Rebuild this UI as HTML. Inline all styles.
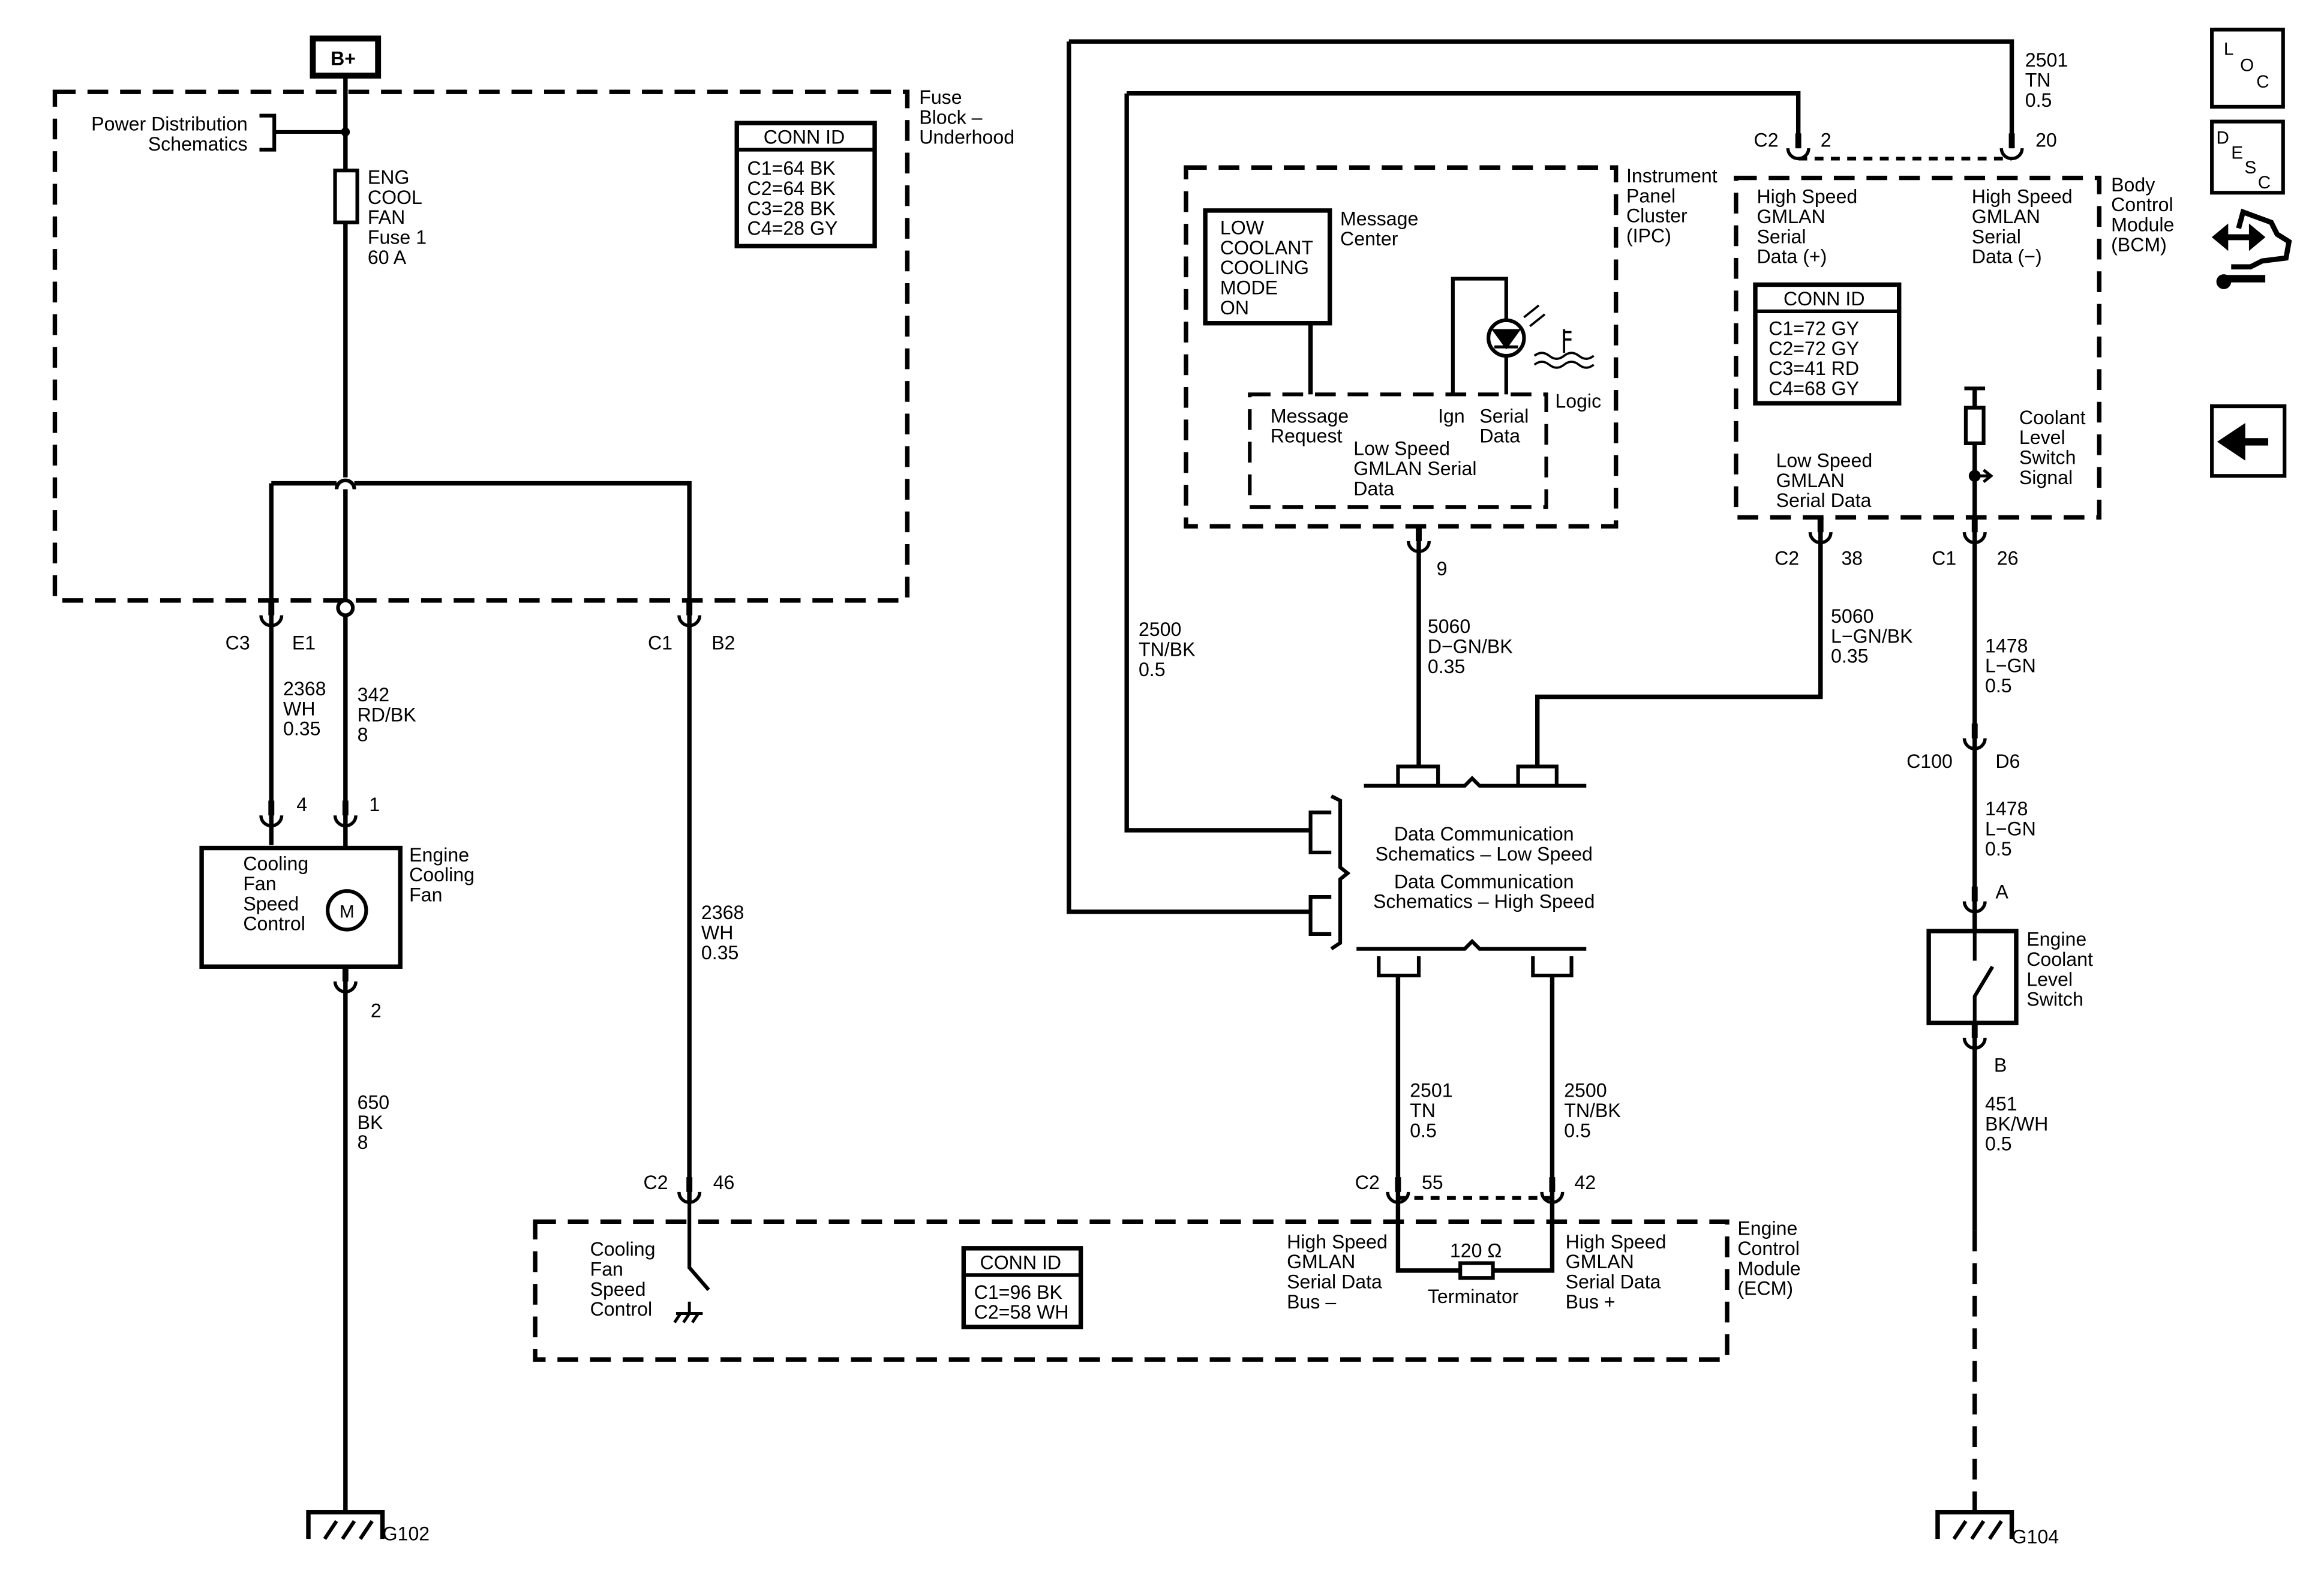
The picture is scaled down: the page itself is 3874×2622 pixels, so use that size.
<!DOCTYPE html>
<html><head><meta charset="utf-8"><style>
html,body{margin:0;padding:0;background:#fff;}
svg{display:block;}
text{font-family:"Liberation Sans",sans-serif;font-size:13px;fill:#000;}
</style></head><body>
<svg width="3874" height="2622" viewBox="0 0 1567.6 1061" xmlns="http://www.w3.org/2000/svg">
<defs>
<g id="cn"><rect x="-2" y="0" width="4" height="10" fill="#000"/><path d="M-7,10 A7,7 0 0 0 7,10" fill="none" stroke="#000" stroke-width="2.2"/></g>
<g id="gnd"><path d="M-25,18 V0 H25 V18" fill="none" stroke="#000" stroke-width="3"/><path d="M-14,18 L-6,6 M-2,18 L6,6 M10,18 L18,6" stroke="#000" stroke-width="2.5"/></g>
</defs>
<g fill="none" stroke="#000" stroke-width="3">
<g stroke-dasharray="14,8">
<rect x="37" y="62" width="575" height="343"/>
<rect x="361" y="824" width="804" height="93"/>
<rect x="800" y="113" width="290" height="242"/>
<rect x="843" y="266" width="200" height="76" stroke-width="2.5"/>
<rect x="1171" y="120" width="245" height="229"/>
<path d="M1213,107 H1357 M943,808 H1047" stroke-width="2.5" stroke-dasharray="6,5"/>
<path d="M1332,830 V1020"/>
</g>
<rect x="211" y="26" width="44" height="25" stroke-width="4"/>
<path d="M233,51 V322 M233,330 V1020"/>
<path d="M227,330 A6,6 0 0 1 239,330" stroke-width="2.5"/>
<path d="M183,326 H227 M239,326 H465 V810 M183,326 V570"/>
<rect x="226" y="115" width="15" height="35" fill="#fff" stroke-width="2.5"/>
<path d="M175,78 H185 V101 H175 M185,89 H233" stroke-width="2.5"/>
<rect x="497" y="83" width="93" height="83" stroke-width="3"/>
<path d="M497,101 H590" stroke-width="2.5"/>
<rect x="136" y="572" width="134" height="80" fill="#fff"/>
<circle cx="234" cy="614" r="13" fill="#fff" stroke-width="2.5"/>
<path d="M465,810 V855 L478,870" stroke-width="2.5"/>
<path d="M456,886 H474 M459,886 L455,892 M465,886 L461,892 M471,886 L467,892 M465,878 V886" stroke-width="2"/>
<rect x="650" y="842" width="79" height="53"/>
<path d="M650,860 H729" stroke-width="2.5"/>
<path d="M943,658 V857 H985 M1007,857 H1047 V658"/>
<rect x="985" y="852" width="22" height="10" stroke-width="2.5"/>
<path d="M721,28 H1357 V100 M760,63 H1213 V100"/>
<path d="M760,63 V560 H884 M721,28 V615 H884"/>
<path d="M957,355 V517 M1037,517 V470 H1228 V355"/>
<path d="M943,530 V517 H970 V530 M1024,530 V517 H1050 V530" stroke-width="2.5"/>
<path d="M920,530 H988 L993,525 L998,530 H1070" stroke-width="2.5"/>
<path d="M898,537 L904,540 V585 L909,589 L904,593 V636 L898,640" stroke-width="2.5"/>
<path d="M898,548 H884 V575 H898 M898,605 H884 V630 H898" stroke-width="2.5"/>
<path d="M915,640 H988 L993,635 L998,640 H1070" stroke-width="2.5"/>
<path d="M930,645 V658 H957 V645 M1034,645 V658 H1060 V645" stroke-width="2.5"/>
<rect x="813" y="142" width="84" height="76"/>
<path d="M884,218 V266"/>
<path d="M980,266 V188 H1016 V266" stroke-width="2.5"/>
<circle cx="1016" cy="228" r="12" fill="#fff" stroke-width="2.5"/>
<path d="M1008,223 H1024 L1016,234 Z M1008,234 H1024" fill="#000" stroke-width="2"/>
<path d="M1028,214 L1038,206 M1032,220 L1042,212" stroke-width="1.5"/>
<path d="M1055,222 V238 M1055,224 H1060 M1055,229 H1060 M1035,240 q5,-4 10,0 t10,0 t10,0 t10,0 M1035,246 q5,-4 10,0 t10,0 t10,0 t10,0" stroke-width="1.5"/>
<rect x="1184" y="192" width="97" height="80"/>
<path d="M1184,210 H1281" stroke-width="2.5"/>
<path d="M1228,349 V470 M1332,262 V830" />
<path d="M1325,262 H1339" stroke-width="2.5"/>
<rect x="1326" y="275" width="12" height="24" fill="#fff" stroke-width="2.5"/>
<path d="M1332,321 H1342 M1338,317 L1343,321 L1338,325" stroke-width="2"/>
<circle cx="1332" cy="321" r="2.5" fill="#000"/>
<rect x="1301" y="628" width="59" height="62" fill="#fff"/>
<path d="M1332,628 V648 M1332,690 V672 L1344,652" stroke-width="2.5"/>
<rect x="1492" y="20" width="48" height="52" stroke-width="2.5"/>
<rect x="1492" y="82" width="48" height="48" stroke-width="2.5"/>
<rect x="1492" y="274" width="49" height="47" stroke-width="2.5"/>
</g>
<circle cx="233" cy="89" r="3" fill="#000"/>
<circle cx="233" cy="410" r="5" fill="#fff" stroke="#000" stroke-width="2.5"/>
<path d="M1495,160 H1525 M1495,160 l6,-5 v10 z M1525,160 l-6,-5 v10 z" stroke="#000" stroke-width="4" fill="#000"/>
<path d="M1510,154 L1513,143 L1532,150 L1536,158 L1544,163 L1542,174 L1526,176 L1518,180 L1505,180" stroke="#000" stroke-width="3.5" fill="none"/>
<path d="M1500,188 H1528" stroke="#000" stroke-width="5"/>
<circle cx="1500" cy="190" r="5" fill="#000"/>
<path d="M1530,298 H1512 M1512,290 L1500,298 L1512,306 Z" stroke="#000" stroke-width="5" fill="#000"/>
<use href="#cn" x="183" y="405"/>
<use href="#cn" x="465" y="405"/>
<use href="#cn" x="183" y="540"/>
<use href="#cn" x="233" y="540"/>
<use href="#cn" x="233" y="652"/>
<use href="#cn" x="465" y="794"/>
<use href="#cn" x="943" y="794"/>
<use href="#cn" x="1047" y="794"/>
<use href="#cn" x="1213" y="90"/>
<use href="#cn" x="1357" y="90"/>
<use href="#cn" x="957" y="355"/>
<use href="#cn" x="1228" y="349"/>
<use href="#cn" x="1332" y="349"/>
<use href="#cn" x="1332" y="488"/>
<use href="#cn" x="1332" y="598"/>
<use href="#cn" x="1332" y="690"/>
<use href="#gnd" x="233" y="1020"/>
<use href="#gnd" x="1332" y="1020"/>
<text x="223" y="44" style="font-weight:bold">B+</text>
<text x="620" y="70"><tspan x="620">Fuse</tspan><tspan x="620" dy="13.5">Block –</tspan><tspan x="620" dy="13.5">Underhood</tspan></text>
<text x="167" y="88" text-anchor="end"><tspan x="167">Power Distribution</tspan><tspan x="167" dy="13.5">Schematics</tspan></text>
<text x="248" y="124"><tspan x="248">ENG</tspan><tspan x="248" dy="13.5">COOL</tspan><tspan x="248" dy="13.5">FAN</tspan><tspan x="248" dy="13.5">Fuse 1</tspan><tspan x="248" dy="13.5">60 A</tspan></text>
<text x="515" y="97">CONN ID</text>
<text x="504" y="118"><tspan x="504">C1=64 BK</tspan><tspan x="504" dy="13.5">C2=64 BK</tspan><tspan x="504" dy="13.5">C3=28 BK</tspan><tspan x="504" dy="13.5">C4=28 GY</tspan></text>
<text x="152" y="438">C3</text><text x="197" y="438">E1</text>
<text x="437" y="438">C1</text><text x="480" y="438">B2</text>
<text x="191" y="469"><tspan x="191">2368</tspan><tspan x="191" dy="13.5">WH</tspan><tspan x="191" dy="13.5">0.35</tspan></text>
<text x="241" y="473"><tspan x="241">342</tspan><tspan x="241" dy="13.5">RD/BK</tspan><tspan x="241" dy="13.5">8</tspan></text>
<text x="200" y="547">4</text><text x="249" y="547">1</text>
<text x="164" y="587"><tspan x="164">Cooling</tspan><tspan x="164" dy="13.5">Fan</tspan><tspan x="164" dy="13.5">Speed</tspan><tspan x="164" dy="13.5">Control</tspan></text>
<text x="229" y="619" style="font-size:12px">M</text>
<text x="276" y="581"><tspan x="276">Engine</tspan><tspan x="276" dy="13.5">Cooling</tspan><tspan x="276" dy="13.5">Fan</tspan></text>
<text x="250" y="686">2</text>
<text x="241" y="748"><tspan x="241">650</tspan><tspan x="241" dy="13.5">BK</tspan><tspan x="241" dy="13.5">8</tspan></text>
<text x="258" y="1039">G102</text>
<text x="473" y="620"><tspan x="473">2368</tspan><tspan x="473" dy="13.5">WH</tspan><tspan x="473" dy="13.5">0.35</tspan></text>
<text x="434" y="802">C2</text><text x="481" y="802">46</text>
<text x="398" y="847"><tspan x="398">Cooling</tspan><tspan x="398" dy="13.5">Fan</tspan><tspan x="398" dy="13.5">Speed</tspan><tspan x="398" dy="13.5">Control</tspan></text>
<text x="661" y="856">CONN ID</text>
<text x="657" y="876"><tspan x="657">C1=96 BK</tspan><tspan x="657" dy="13.5">C2=58 WH</tspan></text>
<text x="868" y="842"><tspan x="868">High Speed</tspan><tspan x="868" dy="13.5">GMLAN</tspan><tspan x="868" dy="13.5">Serial Data</tspan><tspan x="868" dy="13.5">Bus –</tspan></text>
<text x="978" y="848">120 Ω</text>
<text x="963" y="879">Terminator</text>
<text x="1056" y="842"><tspan x="1056">High Speed</tspan><tspan x="1056" dy="13.5">GMLAN</tspan><tspan x="1056" dy="13.5">Serial Data</tspan><tspan x="1056" dy="13.5">Bus +</tspan></text>
<text x="1172" y="833"><tspan x="1172">Engine</tspan><tspan x="1172" dy="13.5">Control</tspan><tspan x="1172" dy="13.5">Module</tspan><tspan x="1172" dy="13.5">(ECM)</tspan></text>
<text x="914" y="802">C2</text><text x="959" y="802">55</text><text x="1062" y="802">42</text>
<text x="951" y="740"><tspan x="951">2501</tspan><tspan x="951" dy="13.5">TN</tspan><tspan x="951" dy="13.5">0.5</tspan></text>
<text x="1055" y="740"><tspan x="1055">2500</tspan><tspan x="1055" dy="13.5">TN/BK</tspan><tspan x="1055" dy="13.5">0.5</tspan></text>
<text x="1001" y="567" text-anchor="middle"><tspan x="1001">Data Communication</tspan><tspan x="1001" dy="13.5">Schematics – Low Speed</tspan></text>
<text x="1001" y="599" text-anchor="middle"><tspan x="1001">Data Communication</tspan><tspan x="1001" dy="13.5">Schematics – High Speed</tspan></text>
<text x="768" y="429"><tspan x="768">2500</tspan><tspan x="768" dy="13.5">TN/BK</tspan><tspan x="768" dy="13.5">0.5</tspan></text>
<text x="963" y="427"><tspan x="963">5060</tspan><tspan x="963" dy="13.5">D−GN/BK</tspan><tspan x="963" dy="13.5">0.35</tspan></text>
<text x="1235" y="420"><tspan x="1235">5060</tspan><tspan x="1235" dy="13.5">L−GN/BK</tspan><tspan x="1235" dy="13.5">0.35</tspan></text>
<text x="969" y="388">9</text>
<text x="1097" y="123"><tspan x="1097">Instrument</tspan><tspan x="1097" dy="13.5">Panel</tspan><tspan x="1097" dy="13.5">Cluster</tspan><tspan x="1097" dy="13.5">(IPC)</tspan></text>
<text x="823" y="158"><tspan x="823">LOW</tspan><tspan x="823" dy="13.5">COOLANT</tspan><tspan x="823" dy="13.5">COOLING</tspan><tspan x="823" dy="13.5">MODE</tspan><tspan x="823" dy="13.5">ON</tspan></text>
<text x="904" y="152"><tspan x="904">Message</tspan><tspan x="904" dy="13.5">Center</tspan></text>
<text x="857" y="285"><tspan x="857">Message</tspan><tspan x="857" dy="13.5">Request</tspan></text>
<text x="970" y="285">Ign</text>
<text x="998" y="285"><tspan x="998">Serial</tspan><tspan x="998" dy="13.5">Data</tspan></text>
<text x="913" y="307"><tspan x="913">Low Speed</tspan><tspan x="913" dy="13.5">GMLAN Serial</tspan><tspan x="913" dy="13.5">Data</tspan></text>
<text x="1049" y="275">Logic</text>
<text x="1366" y="45"><tspan x="1366">2501</tspan><tspan x="1366" dy="13.5">TN</tspan><tspan x="1366" dy="13.5">0.5</tspan></text>
<text x="1183" y="99">C2</text><text x="1228" y="99">2</text><text x="1373" y="99">20</text>
<text x="1185" y="137"><tspan x="1185">High Speed</tspan><tspan x="1185" dy="13.5">GMLAN</tspan><tspan x="1185" dy="13.5">Serial</tspan><tspan x="1185" dy="13.5">Data (+)</tspan></text>
<text x="1330" y="137"><tspan x="1330">High Speed</tspan><tspan x="1330" dy="13.5">GMLAN</tspan><tspan x="1330" dy="13.5">Serial</tspan><tspan x="1330" dy="13.5">Data (−)</tspan></text>
<text x="1424" y="129"><tspan x="1424">Body</tspan><tspan x="1424" dy="13.5">Control</tspan><tspan x="1424" dy="13.5">Module</tspan><tspan x="1424" dy="13.5">(BCM)</tspan></text>
<text x="1203" y="206">CONN ID</text>
<text x="1193" y="226"><tspan x="1193">C1=72 GY</tspan><tspan x="1193" dy="13.5">C2=72 GY</tspan><tspan x="1193" dy="13.5">C3=41 RD</tspan><tspan x="1193" dy="13.5">C4=68 GY</tspan></text>
<text x="1198" y="315"><tspan x="1198">Low Speed</tspan><tspan x="1198" dy="13.5">GMLAN</tspan><tspan x="1198" dy="13.5">Serial Data</tspan></text>
<text x="1362" y="286"><tspan x="1362">Coolant</tspan><tspan x="1362" dy="13.5">Level</tspan><tspan x="1362" dy="13.5">Switch</tspan><tspan x="1362" dy="13.5">Signal</tspan></text>
<text x="1197" y="381">C2</text><text x="1242" y="381">38</text>
<text x="1303" y="381">C1</text><text x="1347" y="381">26</text>
<text x="1339" y="440"><tspan x="1339">1478</tspan><tspan x="1339" dy="13.5">L−GN</tspan><tspan x="1339" dy="13.5">0.5</tspan></text>
<text x="1286" y="518">C100</text><text x="1346" y="518">D6</text>
<text x="1339" y="550"><tspan x="1339">1478</tspan><tspan x="1339" dy="13.5">L−GN</tspan><tspan x="1339" dy="13.5">0.5</tspan></text>
<text x="1346" y="606">A</text>
<text x="1367" y="638"><tspan x="1367">Engine</tspan><tspan x="1367" dy="13.5">Coolant</tspan><tspan x="1367" dy="13.5">Level</tspan><tspan x="1367" dy="13.5">Switch</tspan></text>
<text x="1345" y="723">B</text>
<text x="1339" y="749"><tspan x="1339">451</tspan><tspan x="1339" dy="13.5">BK/WH</tspan><tspan x="1339" dy="13.5">0.5</tspan></text>
<text x="1357" y="1041">G104</text>
<text x="1500" y="37" style="font-size:12px">L</text><text x="1511" y="48" style="font-size:12px">O</text><text x="1522" y="59" style="font-size:12px">C</text>
<text x="1495" y="97" style="font-size:12px">D</text><text x="1505" y="107" style="font-size:12px">E</text><text x="1514" y="117" style="font-size:12px">S</text><text x="1523" y="127" style="font-size:12px">C</text>
</svg>
</body></html>
